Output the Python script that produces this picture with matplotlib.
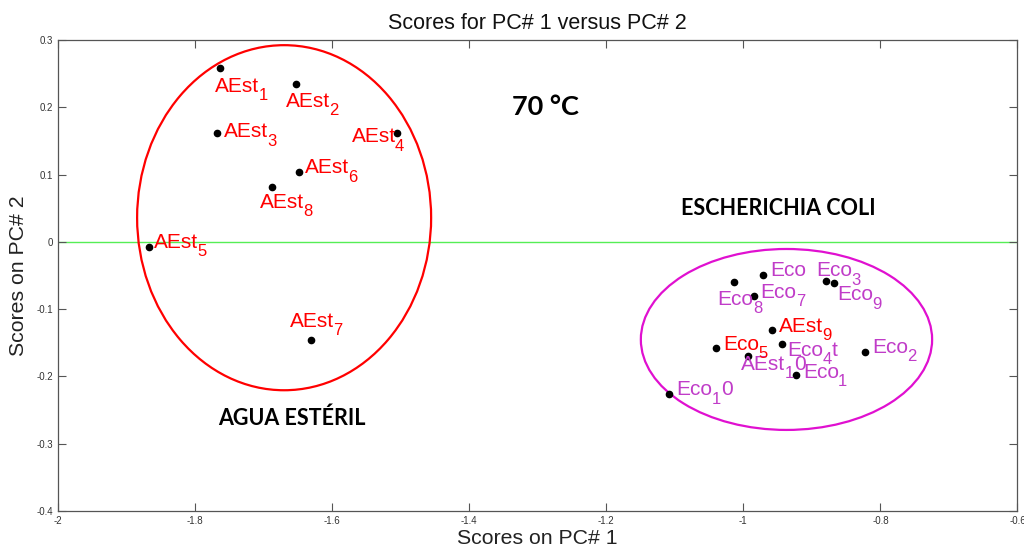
import matplotlib.pyplot as plt
from matplotlib.patches import Ellipse

plt.rcParams['font.family'] = 'Liberation Sans'

# Scores (PC1, PC2) for each sample
names = ['AEst', 'AEst', 'AEst', 'AEst', 'AEst', 'AEst', 'AEst', 'AEst', 'AEst', 'AEst',
         'Eco', 'Eco', 'Eco', 'Eco', 'Eco', 'Eco', 'Eco', 'Eco', 'Eco', 'Eco']
subs = ['1', '2', '3', '4', '5', '6', '7', '8', '9', '1',
        '1', '2', '3', '4', '5', '', '7', '8', '9', '1']
tails = ['', '', '', '', '', '', '', '', '', '0',
         '', '', '', 't', '', '', '', '', '', '0']
pc1 = [-1.763, -1.652, -1.768, -1.506, -1.867, -1.648,
       -1.631, -1.687, -0.958, -0.993,
       -0.923, -0.822, -0.879, -0.944, -1.040, -0.971,
       -0.985, -1.014, -0.868, -1.108]
pc2 = [0.258, 0.235, 0.162, 0.162, -0.008, 0.104,
       -0.146, 0.082, -0.131, -0.170,
       -0.198, -0.163, -0.058, -0.152, -0.157, -0.049,
       -0.080, -0.060, -0.061, -0.226]
label_colors = ['red'] * 9 + ['#C03CC8'] + ['#C03CC8'] * 4 + ['red'] + ['#C03CC8'] * 5

# label offsets in pixels (dx right, dy down)
offsets = [(-5, 18), (-11, 18), (7, -1), (-45, 4), (5, -5), (6, -4),
           (-21, -19), (-13, 16), (7, -4), (-7, 8),
           (7, -3), (7, -4), (-10, -10), (6, 6), (7, -3), (7, -4),
           (7, -3), (-16, 17), (3, 12), (7, -4)]

# confidence ellipses: center, width, height
water_ellipse = (-1.670, 0.036, 0.429, 0.513)
coli_ellipse = (-0.937, -0.145, 0.425, 0.269)

fig = plt.figure(figsize=(10.24, 5.52), dpi=100)
ax = fig.add_axes([0.0566, 0.0743, 0.937, 0.853])

ax.axhline(0, color='#55EE55', lw=1.0, zorder=1)

for (cx, cy, w, h), col in [(water_ellipse, 'red'), (coli_ellipse, '#E010D0')]:
    ax.add_patch(Ellipse((cx, cy), w, h, fill=False, ec=col, lw=1.6, zorder=2))

ax.plot(pc1, pc2, 'o', color='black', ms=4.5, zorder=4)

# labels: name, then a subscript index, then any trailing character
for x, y, nm, sb, tl, col, (dx, dy) in zip(pc1, pc2, names, subs, tails, label_colors, offsets):
    base = ax.annotate(nm, (x, y), xytext=(dx * 0.72, -dy * 0.72), textcoords='offset points',
                       color=col, fontsize=15, ha='left', va='center', zorder=5)
    last = base
    if sb:
        last = ax.annotate(sb, (1, 0.02), xycoords=base, xytext=(-0.6, 0), textcoords='offset points',
                           color=col, fontsize=12, ha='left', va='center', zorder=5)
    if tl:
        ax.annotate(tl, (1, 0.5), xycoords=(last, base), xytext=(0, 0), textcoords='offset points',
                    color=col, fontsize=15, ha='left', va='center', zorder=5)

# group / temperature annotations
ax.text(-1.289, 0.200, '70 °C', fontsize=19.5, fontweight='bold', family='Lato',
        ha='center', va='center')
ax.text(-1.658, -0.262, 'AGUA ESTÉRIL', fontsize=15.5, fontweight='bold', family='Lato',
        ha='center', va='center')
ax.text(-0.949, 0.050, 'ESCHERICHIA COLI', fontsize=15.5, fontweight='bold', family='Lato',
        ha='center', va='center')

ax.set_xlim(-2, -0.6)
ax.set_ylim(-0.4, 0.3)
ax.set_xticks([-2, -1.8, -1.6, -1.4, -1.2, -1, -0.8, -0.6])
ax.set_xticklabels(['-2', '-1.8', '-1.6', '-1.4', '-1.2', '-1', '-0.8', '-0.6'])
ax.set_yticks([-0.4, -0.3, -0.2, -0.1, 0, 0.1, 0.2, 0.3])
ax.set_yticklabels(['-0.4', '-0.3', '-0.2', '-0.1', '0', '0.1', '0.2', '0.3'])
ax.tick_params(direction='in', length=6, width=0.8, top=True, right=True,
               labelsize=7, labelcolor='#333333', color='#555555')
for s in ax.spines.values():
    s.set_color('#555555')
    s.set_linewidth(0.9)

ax.set_title('Scores for PC# 1 versus PC# 2', fontsize=15.5, color='#111111', pad=8)
ax.set_xlabel('Scores on PC# 1', fontsize=15.3, color='#222222', labelpad=2)
ax.set_ylabel('Scores on PC# 2', fontsize=15.3, color='#222222')
ax.yaxis.set_label_coords(-0.031, 0.5)

fig.savefig('out.png', dpi=100, facecolor='white')
